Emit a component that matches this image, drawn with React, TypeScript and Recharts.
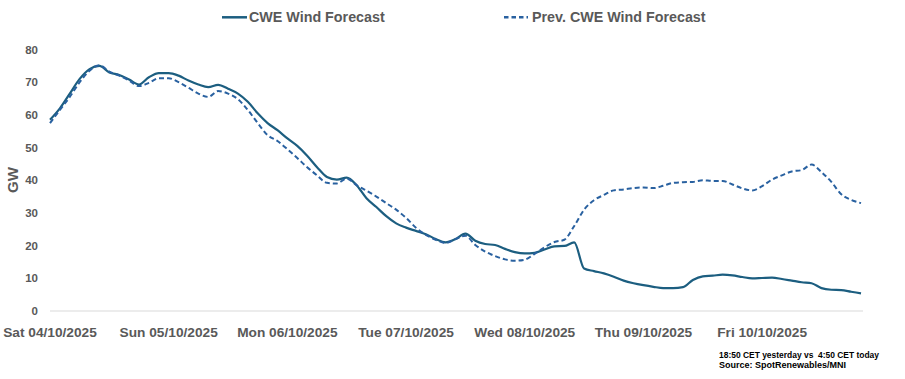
import React from 'react';
import { LineChart, Line, XAxis, YAxis } from 'recharts';

const hours = [0,2,4,6,8,10,12,14,16,18,20,22,24,26,28,30,32,34,36,38,40,42,44,46,48,50,52,54,56,58,60,62,64,66,68,70,72,74,76,78,80,82,84,86,88,90,92,94,96,98,100,102,104,106,108,110,112,114,116,118,120,122,124,126,128,130,132,134,136,138,140,142,144,146,148,150,152,154,156,158,160,162,164];

const cweWind = [58.5,62,66.5,71,74,75,73,72.2,70.8,69.3,71.5,72.8,72.8,72,70.5,69.3,68.5,69.2,68,66.5,64,60.5,57.5,55.3,52.8,50.5,47.5,44,41,40.2,40.8,38.5,34.5,31.8,29,26.8,25.5,24.5,23.5,22,21,22,23.7,21.5,20.5,20.2,19,18,17.6,17.8,18.8,19.8,19.9,21,13,12.2,11.5,10.5,9.3,8.5,7.9,7.4,7,7,7.3,9.5,10.6,10.8,11.1,10.9,10.4,10,10.1,10.2,9.8,9.3,8.8,8.5,7,6.5,6.4,5.9,5.4];

const prevCweWind = [57.5,61.5,65.5,70,73.5,75.2,73.2,72,70.5,68.8,69.8,71.2,71.2,70,68.3,66.5,65.5,67.3,66.5,64.8,61.5,57.5,53.8,52,49.5,46.8,44,41.5,39.2,39,40.5,38.5,36.8,35,33,31,28.5,25.5,23.3,21.8,20.8,22,23,20.2,18.2,16.8,15.8,15.4,15.7,17.5,19.5,21.1,21.8,26,31,33.9,35.5,36.9,37.2,37.6,37.8,37.6,38.3,39.2,39.4,39.5,40,39.8,39.8,38.7,37.5,36.9,38.2,40.2,41.5,42.7,43.1,44.8,42.5,39.5,35.7,34,33];

const dayTicks = [0, 24, 48, 72, 96, 120, 144];
const dayLabels = ['Sat 04/10/2025','Sun 05/10/2025','Mon 06/10/2025','Tue 07/10/2025','Wed 08/10/2025','Thu 09/10/2025','Fri 10/10/2025'];
const yTicks = [0,10,20,30,40,50,60,70,80];
const seriesNames = ['CWE Wind Forecast', 'Prev. CWE Wind Forecast'];
const noteLines = ['18:50 CET yesterday vs  4:50 CET today', 'Source: SpotRenewables/MNI'];

const data = hours.map((h, i) => ({ h, cur: cweWind[i], prev: prevCweWind[i] }));

const FONT = '"Liberation Sans", Arial, sans-serif';
const SOLID = '#1c5e80';
const DASH = '#2961a0';
const GRAY = '#595959';

export default function App() {
  return (
    <div style={{ position: 'absolute', left: 0, top: 0, width: 905, height: 379, background: '#fff' }}>
      <LineChart width={905} height={379} data={data} margin={{ top: 49.5, right: 42, bottom: 38, left: 0 }}>
        <XAxis
          dataKey="h"
          type="number"
          domain={[0, 164.4]}
          ticks={dayTicks}
          tickFormatter={(v: number) => dayLabels[dayTicks.indexOf(v)] ?? ''}
          axisLine={{ stroke: '#d9d9d9', strokeWidth: 1 }}
          tickLine={false}
          height={30}
          tick={{ fill: GRAY, fontSize: 13.7, fontWeight: 'bold', fontFamily: FONT }}
          tickMargin={10}
          interval={0}
        />
        <YAxis
          domain={[0, 80]}
          ticks={yTicks}
          width={50}
          axisLine={false}
          tickLine={false}
          tick={{ fill: GRAY, fontSize: 11.5, fontWeight: 'bold', fontFamily: FONT }}
          tickMargin={6}
          interval={0}
        />
        <Line dataKey="cur" name={seriesNames[0]} stroke={SOLID} strokeWidth={2.2} dot={false} isAnimationActive={false} type="monotone" />
        <Line dataKey="prev" name={seriesNames[1]} stroke={DASH} strokeWidth={2} strokeDasharray="5 3" dot={false} isAnimationActive={false} type="monotone" />
      </LineChart>
      <svg width={905} height={379} style={{ position: 'absolute', left: 0, top: 0, pointerEvents: 'none' }}>
        <g fontFamily={FONT} fontWeight="bold">
          <line x1={222} y1={17.3} x2={247} y2={17.3} stroke={SOLID} strokeWidth={2.5} />
          <text x={249} y={17} dominantBaseline="central" fontSize={14.3} fill={GRAY}>{seriesNames[0]}</text>
          <line x1={504} y1={17.3} x2={528} y2={17.3} stroke={DASH} strokeWidth={2.5} strokeDasharray="4.5 3" />
          <text x={532} y={17} dominantBaseline="central" fontSize={14.3} fill={GRAY}>{seriesNames[1]}</text>
          <text x={12} y={180} transform="rotate(-90 12 180)" textAnchor="middle" dominantBaseline="central" fontSize={15} fill={GRAY}>GW</text>
          <text x={719} y={354.5} dominantBaseline="central" fontSize={9} fill="#000" textLength={160} lengthAdjust="spacingAndGlyphs" style={{ whiteSpace: 'pre' }}>{noteLines[0]}</text>
          <text x={719} y={364.5} dominantBaseline="central" fontSize={9} fill="#000">{noteLines[1]}</text>
        </g>
      </svg>
    </div>
  );
}
